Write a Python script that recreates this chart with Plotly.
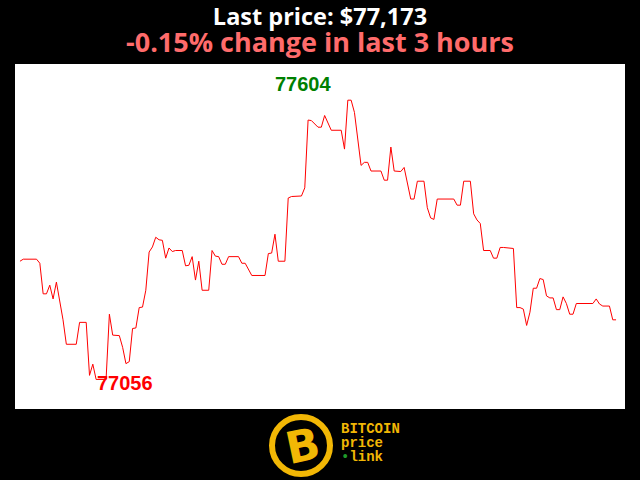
import plotly.graph_objects as go

# time in minutes over the last 3 hours, and BTC price (USD)
minutes = [0, 1, 5, 6, 7, 8, 9, 10, 11, 12, 13, 14, 17, 18, 20, 21, 22, 23, 26, 27,
           28, 30, 31, 32, 33, 34, 35, 36, 37, 38, 39, 40, 41, 42, 43, 44, 45, 46, 47, 49,
           50, 51, 52, 53, 54, 55, 57, 58, 59, 60, 61, 62, 63, 66, 67, 68, 70, 74, 75, 76,
           77, 78, 80, 81, 82, 85, 86, 87, 88, 90, 91, 92, 94, 97, 98, 99, 100, 101, 103, 104,
           105, 106, 109, 110, 111, 112, 113, 115, 116, 118, 119, 120, 122, 123, 124, 125, 126, 131, 132, 133,
           134, 136, 137, 138, 139, 140, 142, 143, 144, 145, 146, 149, 150, 151, 152, 153, 154, 155, 156, 157,
           158, 159, 160, 161, 162, 163, 164, 165, 166, 167, 168, 173, 174, 175, 176, 178, 179, 180]
prices = [77288, 77292, 77292, 77284, 77224, 77224, 77241, 77214, 77247, 77212, 77173, 77125, 77125, 77168, 77168, 77064, 77086, 77056, 77056, 77184,
          77143, 77142, 77119, 77087, 77091, 77156, 77157, 77197, 77198, 77231, 77306, 77316, 77335, 77330, 77329, 77294, 77314, 77307, 77309, 77309,
          77279, 77280, 77297, 77251, 77288, 77231, 77231, 77309, 77298, 77297, 77282, 77282, 77297, 77297, 77284, 77284, 77260, 77260, 77303, 77304,
          77341, 77288, 77288, 77412, 77415, 77416, 77432, 77565, 77564, 77551, 77551, 77574, 77545, 77545, 77508, 77604, 77604, 77580, 77476, 77482,
          77482, 77465, 77465, 77447, 77447, 77512, 77465, 77464, 77472, 77410, 77410, 77445, 77445, 77393, 77373, 77370, 77410, 77410, 77398, 77398,
          77445, 77445, 77381, 77369, 77362, 77309, 77309, 77294, 77294, 77315, 77315, 77313, 77197, 77197, 77194, 77162, 77188, 77235, 77235, 77254,
          77252, 77220, 77216, 77216, 77193, 77193, 77218, 77205, 77184, 77184, 77205, 77205, 77214, 77204, 77200, 77200, 77173, 77173]

last_price = prices[-1]
change_pct = -0.15
hi = max(prices)
lo = min(prices)
hi_t = minutes[prices.index(hi)]
lo_t = minutes[prices.index(lo)]

fig = go.Figure()
fig.add_trace(go.Scatter(x=minutes, y=prices, mode="lines",
                         line=dict(color="#ff0000", width=1), hoverinfo="skip"))

fig.update_layout(
    width=640, height=480,
    paper_bgcolor="#000000", plot_bgcolor="#ffffff",
    margin=dict(l=15, r=15, t=64, b=71),
    showlegend=False,
    xaxis=dict(visible=False, range=[-1.5, 182.7], fixedrange=True),
    yaxis=dict(visible=False, range=[76998, 77675], fixedrange=True),
)

# title and subtitle (one text block, two lines)
title_text = ("<span style='font-size:23.5px'><b>Last price: $%s</b></span><br>"
              "<span style='font-size:27px;color:#ff6b6b'><b>%.2f%% change in last 3 hours</b></span>"
              % (format(last_price, ","), change_pct))
fig.add_annotation(text=title_text,
                   xref="paper", yref="paper", x=0.5, y=1.192, showarrow=False,
                   font=dict(family="Open Sans", size=21, color="#ffffff"),
                   xanchor="center", yanchor="top", align="center")

# high / low labels
fig.add_annotation(text="<b>%d</b>" % hi, x=hi_t, y=hi, showarrow=False,
                   xshift=-45, yshift=16, xanchor="center", yanchor="middle",
                   font=dict(family="Liberation Sans", size=20, color="#008000"))
fig.add_annotation(text="<b>%d</b>" % lo, x=lo_t, y=lo, showarrow=False,
                   xshift=29, yshift=-4, xanchor="center", yanchor="middle",
                   font=dict(family="Liberation Sans", size=20, color="#ff0000"))

# logo
gold = "#f2b705"
fig.add_shape(type="circle", xref="paper", yref="paper",
              x0=(272 - 15) / 610, x1=(330 - 15) / 610,
              y0=(409 - 474) / 345, y1=(409 - 417) / 345,
              line=dict(color=gold, width=6), fillcolor="#000000")
fig.add_annotation(text="<b>B</b>", xref="paper", yref="paper",
                   x=(303 - 15) / 610, y=(409 - 446) / 345, showarrow=False,
                   textangle=-12, xanchor="center", yanchor="middle",
                   font=dict(family="DejaVu Sans", size=44, color=gold))
logo_text = ("<span style='font-size:14px'><b>BITCOIN</b></span><br>"
             "<span style='font-size:14px'><b>price</b></span><br>"
             "<span style='font-size:14px'><span style='color:#1f9a2a'>•</span><b>link</b></span>")
fig.add_annotation(text=logo_text, xref="paper", yref="paper",
                   x=(339 - 15) / 610, y=(409 - 443) / 345, showarrow=False,
                   xanchor="left", yanchor="middle", align="left",
                   font=dict(family="Liberation Mono", size=10.8, color=gold))

fig.write_html("out.html", config={"displayModeBar": False},
               post_script="document.body.style.margin='0';document.body.style.background='#000';")
